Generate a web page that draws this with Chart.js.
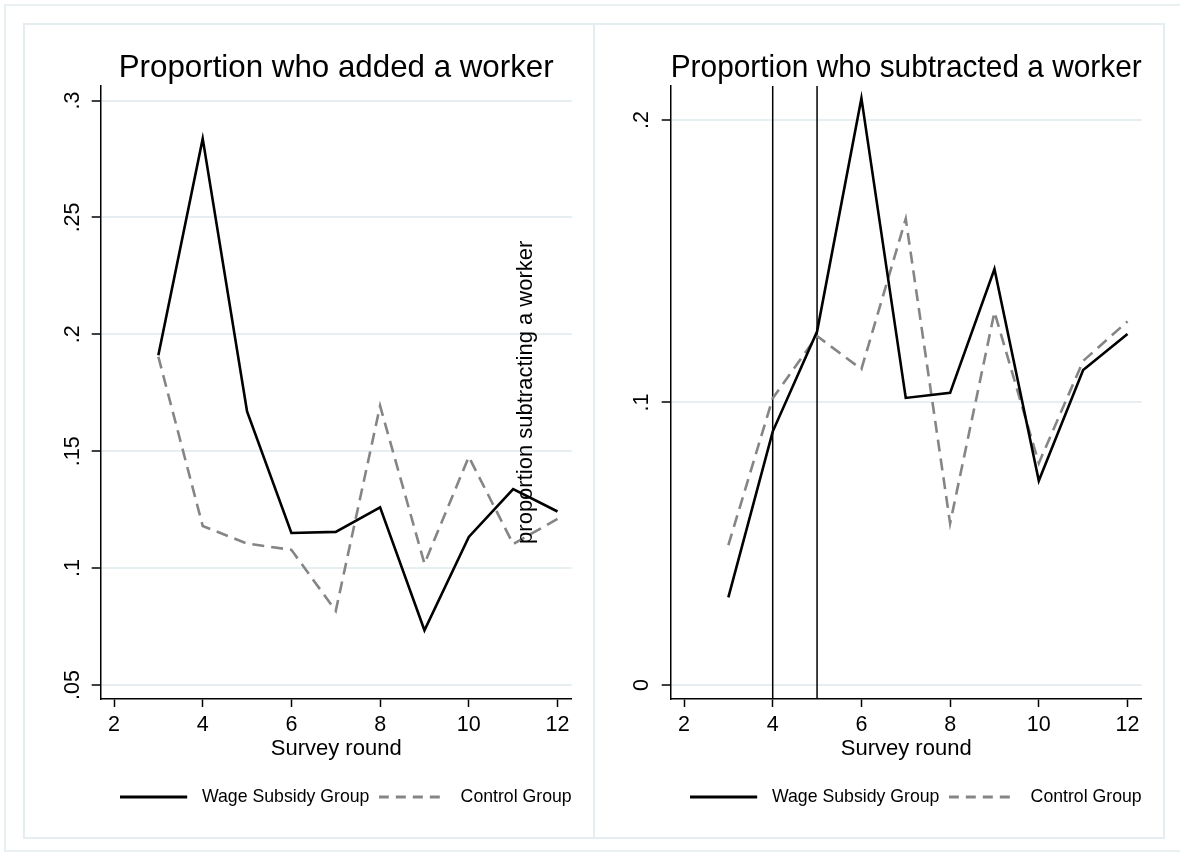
<!DOCTYPE html>
<html>
<head>
<meta charset="utf-8">
<script src="https://cdn.jsdelivr.net/npm/chart.js@4.4.1/dist/chart.umd.min.js"></script>
<style>
  html, body { margin: 0; padding: 0; background: #ffffff; width: 1180px; height: 855px; overflow: hidden; }
  .frame { position: absolute; box-sizing: border-box; }
  #outer { left: 4px; top: 4px; width: 1200px; height: 848px; border: 2px solid #e9f0f2; }
  #p1 { left: 23px; top: 23px; width: 572px; height: 816px; border: 2px solid #e5edf0; }
  #p2 { left: 593px; top: 23px; width: 572px; height: 816px; border: 2px solid #e5edf0; }
  .cw { position: absolute; top: 24px; width: 570px; height: 814px; }
</style>
</head>
<body>
<div class="frame" id="outer"></div>
<div class="frame" id="p1"></div>
<div class="frame" id="p2"></div>
<div class="cw" style="left:24px"><canvas id="c1" width="570" height="814"></canvas></div>
<div class="cw" style="left:594px"><canvas id="c2" width="570" height="814"></canvas></div>
<script>
// ---------------- data ----------------
const rounds = [3, 4, 5, 6, 7, 8, 9, 10, 11, 12];

const addedWage    = [0.191, 0.2837, 0.167, 0.115, 0.1155, 0.126, 0.0734, 0.1133, 0.1338, 0.1242];
const addedControl = [0.1904, 0.118, 0.1105, 0.1078, 0.0817, 0.1694, 0.1019, 0.1476, 0.1103, 0.121];

const subWage      = [0.031, 0.0897, 0.1251, 0.2077, 0.1016, 0.1034, 0.1472, 0.0723, 0.1115, 0.1242];
const subControl   = [0.0495, 0.1015, 0.1235, 0.1118, 0.165, 0.0572, 0.132, 0.0785, 0.1147, 0.1287];

const xTicks       = [2, 4, 6, 8, 10, 12];
const leftYTicks   = [0.05, 0.1, 0.15, 0.2, 0.25, 0.3];
const leftYLabels  = ['.05', '.1', '.15', '.2', '.25', '.3'];
const rightYTicks  = [0, 0.1, 0.2];
const rightYLabels = ['0', '.1', '.2'];
const rightXLines  = [4, 5];

const panelTitles  = ['Proportion who added a worker', 'Proportion who subtracted a worker'];
const seriesNames  = ['Wage Subsidy Group', 'Control Group'];
const xAxisTitle   = 'Survey round';
const noteText     = 'proportion subtracting a worker';
const noteAt       = { x: 11.29, y: 0.1752 };

// ---------------- styling / layout ----------------
const FONT = '"Liberation Sans", Arial, Helvetica, sans-serif';
Chart.defaults.font.family = FONT;
Chart.defaults.color = '#000000';

const SERIES_STYLE = [
  { color: '#000000', dash: [],      width: 2.6, keyStart: 0, keyLen: 67,    keyDash: [] },
  { color: '#858585', dash: [12, 7], width: 2.6, keyStart: 0, keyLen: 62.35, keyDash: [10, 7] }
];
const KEY_BOX = 73;
const LEGEND_PAD = 9.3;

function keyImage(st) {
  const c = document.createElement('canvas');
  c.width = KEY_BOX; c.height = 8;
  const g = c.getContext('2d');
  g.strokeStyle = st.color;
  g.lineWidth = 2.8;
  g.setLineDash(st.keyDash);
  g.beginPath();
  g.moveTo(st.keyStart, 4);
  g.lineTo(st.keyStart + st.keyLen, 4);
  g.stroke();
  return c;
}
const KEY_IMAGES = SERIES_STYLE.map(keyImage);

const vLinePlugin = {
  id: 'vlines',
  beforeDatasetsDraw(chart, args, opts) {
    const vals = opts.values || [];
    if (!vals.length) return;
    const { ctx, chartArea: a, scales: { x } } = chart;
    ctx.save();
    ctx.strokeStyle = opts.color || '#000';
    ctx.lineWidth = opts.width || 1.5;
    vals.forEach(v => {
      const px = x.getPixelForValue(v);
      ctx.beginPath();
      ctx.moveTo(px, a.top);
      ctx.lineTo(px, a.bottom);
      ctx.stroke();
    });
    ctx.restore();
  }
};

const notePlugin = {
  id: 'note',
  afterDatasetsDraw(chart, args, opts) {
    if (!opts.text) return;
    const { ctx, scales: { x, y } } = chart;
    const px = x.getPixelForValue(opts.x);
    const py = y.getPixelForValue(opts.y);
    ctx.save();
    ctx.translate(px, py);
    ctx.rotate(-Math.PI / 2);
    ctx.font = opts.size + 'px ' + FONT;
    ctx.fillStyle = '#000';
    ctx.textAlign = 'center';
    ctx.textBaseline = 'middle';
    ctx.fillText(opts.text, 0, 0);
    ctx.restore();
  }
};

// right-align the legend row with the plot region's right edge
const legendAlign = {
  id: 'legendAlign',
  afterLayout(chart) {
    const L = chart.legend;
    if (!L) return;
    const shift = chart.chartArea.right + LEGEND_PAD - L.right;
    L.left += shift;
    L.right += shift;
  }
};

function series(xs, ys) { return xs.map((v, i) => ({ x: v, y: ys[i] })); }

function legendLabels(chart) {
  const items = Chart.defaults.plugins.legend.labels.generateLabels(chart);
  items.forEach(it => {
    const ds = chart.data.datasets[it.datasetIndex];
    it.pointStyle = KEY_IMAGES[it.datasetIndex];
    it.strokeStyle = ds.borderColor;
    it.fillStyle = ds.borderColor;
    it.lineWidth = 0;
  });
  return items;
}

function makeChart(id, cfg) {
  const ctx = document.getElementById(id).getContext('2d');
  return new Chart(ctx, {
    type: 'line',
    data: {
      datasets: [cfg.wage, cfg.control].map((vals, i) => ({
        label: seriesNames[i],
        data: series(rounds, vals),
        borderColor: SERIES_STYLE[i].color,
        borderWidth: SERIES_STYLE[i].width,
        borderDash: SERIES_STYLE[i].dash,
        pointRadius: 0,
        tension: 0,
        fill: false
      }))
    },
    plugins: [vLinePlugin, notePlugin, legendAlign],
    options: {
      responsive: false,
      devicePixelRatio: 1,
      animation: false,
      layout: { padding: { left: 0, right: 22.3, top: 0, bottom: 22.15 } },
      scales: {
        x: {
          type: 'linear',
          min: 1.7,
          max: 12.32,
          afterBuildTicks: s => { s.ticks = xTicks.map(v => ({ value: v })); },
          afterFit: s => { s.height = 79.85; },
          border: { display: true, color: '#000', width: 1.5 },
          grid: { drawOnChartArea: false, color: 'rgba(0,0,0,0)', tickColor: '#000', tickLength: 8, tickWidth: 1.5 },
          ticks: { font: { size: 21.5 }, padding: 5.4, color: '#000', maxRotation: 0, minRotation: 0,
                   callback: v => String(v) },
          title: { display: true, text: xAxisTitle, font: { size: 22 }, color: '#000',
                   padding: { top: 0, bottom: 16.65 } }
        },
        y: {
          type: 'linear',
          min: cfg.ymin,
          max: cfg.ymax,
          afterBuildTicks: s => { s.ticks = cfg.yTicks.map(v => ({ value: v })); },
          afterFit: s => { s.width = 76.7; },
          border: { display: true, color: '#000', width: 1.5 },
          grid: { color: '#e6eef1', lineWidth: 2, tickColor: '#000', tickLength: 9, tickWidth: 1.5 },
          ticks: {
            font: { size: 21.5 }, color: '#000',
            minRotation: 90, maxRotation: 90,
            crossAlign: 'center',
            padding: cfg.yPad,
            callback: v => {
              const i = cfg.yTicks.findIndex(t => Math.abs(t - v) < 1e-9);
              return i >= 0 ? cfg.yLabels[i] : '';
            }
          }
        }
      },
      plugins: {
        title: {
          display: true,
          text: cfg.title,
          fullSize: false,
          color: '#000',
          font: { size: 31.3, weight: 'normal', lineHeight: 1.1 },
          padding: { top: 27.3, bottom: 0.3 }
        },
        legend: {
          display: true,
          position: 'bottom',
          fullSize: true,
          align: 'end',
          labels: {
            usePointStyle: true,
            pointStyleWidth: KEY_BOX,
            padding: LEGEND_PAD,
            color: '#000',
            font: { size: 17.7 },
            generateLabels: legendLabels
          }
        },
        tooltip: { enabled: false },
        vlines: { values: cfg.vlines, color: '#000', width: 1.5 },
        note: cfg.note
      }
    }
  });
}

makeChart('c1', {
  title: panelTitles[0],
  wage: addedWage, control: addedControl,
  ymin: 0.044, ymax: 0.3062,
  yTicks: leftYTicks, yLabels: leftYLabels, yPad: 3.8,
  vlines: [],
  note: { text: noteText, x: noteAt.x, y: noteAt.y, size: 22 }
});

makeChart('c2', {
  title: panelTitles[1],
  wage: subWage, control: subControl,
  ymin: -0.00496, ymax: 0.212,
  yTicks: rightYTicks, yLabels: rightYLabels, yPad: 10.7,
  vlines: rightXLines,
  note: { text: '' }
});
</script>
</body>
</html>
